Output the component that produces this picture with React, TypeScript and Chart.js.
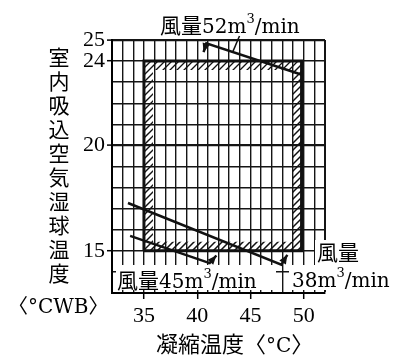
import React, { useEffect, useRef } from "react";
import { Chart, registerables } from "chart.js";

Chart.register(...registerables);

// ---- data ----
const X_MIN = 32;
const X_MAX = 52;
const Y_MIN = 13;
const Y_MAX = 25;
const X_TICK_LABELS = [35, 40, 45, 50];
const Y_TICK_LABELS = [15, 20, 24, 25];

// operating envelope (hatched rectangle)
const envelope = [
  { x: 35, y: 15 },
  { x: 35, y: 24 },
  { x: 49.8, y: 24 },
  { x: 49.8, y: 15 },
  { x: 35, y: 15 },
];
// air flow 52 m3/min limit line (arrow tip first)
const flow52 = [
  { x: 40.6, y: 24.42 },
  { x: 40.86, y: 24.84 },
  { x: 49.9, y: 23.34 },
];
const flow52Leader = [
  { x: 43.97, y: 25.19 },
  { x: 43.35, y: 24.45 },
];
// air flow 38 m3/min limit line (arrow tip last)
const flow38 = [
  { x: 33.5, y: 17.27 },
  { x: 47.9, y: 14.34 },
  { x: 48.46, y: 14.81 },
];
// air flow 45 m3/min limit line (arrow tip last)
const flow45 = [
  { x: 33.7, y: 15.71 },
  { x: 41.17, y: 14.42 },
  { x: 41.8, y: 14.78 },
];

const Y_TITLE = "室内吸込空気湿球温度";
const Y_UNIT = ["〈", "°CWB", "〉"];
const X_TITLE = ["凝縮温度", "〈", "°C", "〉"];
const LABEL_52 = ["風量", "52m", "3", "/min"];
const LABEL_45 = ["風量", "45m", "3", "/min"];
const LABEL_38A = "風量";
const LABEL_38B = ["38m", "3", "/min"];

const CJK = "'Noto Sans CJK JP', sans-serif";
const SERIF = "'DejaVu Serif', serif";

type Seg = { t: string; font: string; dy?: number };

function drawSegs(ctx: CanvasRenderingContext2D, x: number, y: number, segs: Seg[]) {
  ctx.textBaseline = "alphabetic";
  ctx.textAlign = "left";
  let cx = x;
  for (const s of segs) {
    ctx.font = s.font;
    ctx.fillText(s.t, cx, y + (s.dy || 0));
    cx += ctx.measureText(s.t).width;
  }
}

function flowSegs(parts: string[]): Seg[] {
  return [
    { t: parts[0], font: `21px ${CJK}` },
    { t: parts[1], font: `20px ${SERIF}` },
    { t: parts[2], font: `13px ${SERIF}`, dy: -10 },
    { t: parts[3], font: `20px ${SERIF}` },
  ];
}

const annotationPlugin = {
  id: "annotations",
  beforeDatasetsDraw(chart: any) {
    const ctx: CanvasRenderingContext2D = chart.ctx;
    const xs = chart.scales.x;
    const ys = chart.scales.y;
    ctx.save();
    // white label backgrounds covering grid
    ctx.fillStyle = "#fff";
    ctx.fillRect(116, 265, 160, 25);
    ctx.fillRect(289, 265, 107, 25);
    ctx.fillRect(315, 240, 60, 25);

    // hatched band inside the envelope
    const exs = envelope.map((p) => xs.getPixelForValue(p.x));
    const eys = envelope.map((p) => ys.getPixelForValue(p.y));
    const l = Math.min(...exs);
    const r = Math.max(...exs);
    const t = Math.min(...eys);
    const b = Math.max(...eys);
    const band = 9;
    ctx.save();
    ctx.beginPath();
    ctx.rect(l, t, r - l, b - t);
    ctx.rect(l + band, t + band, r - l - 2 * band, b - t - 2 * band);
    ctx.clip("evenodd");
    ctx.strokeStyle = "#111";
    ctx.lineWidth = 1.4;
    ctx.beginPath();
    for (let c = l + t; c <= r + b; c += 7) {
      ctx.moveTo(c - b, b);
      ctx.lineTo(c - t, t);
    }
    ctx.stroke();
    ctx.restore();

    // texts
    ctx.fillStyle = "#000";
    drawSegs(ctx, 160, 33, flowSegs(LABEL_52));
    drawSegs(ctx, 117, 288, flowSegs(LABEL_45));
    drawSegs(ctx, 317, 260, [{ t: LABEL_38A, font: `21px ${CJK}` }]);
    drawSegs(ctx, 292, 287, [
      { t: LABEL_38B[0], font: `20px ${SERIF}` },
      { t: LABEL_38B[1], font: `13px ${SERIF}`, dy: -10 },
      { t: LABEL_38B[2], font: `20px ${SERIF}` },
    ]);

    // y title (vertical stacked)
    ctx.font = `21px ${CJK}`;
    ctx.textAlign = "center";
    ctx.textBaseline = "middle";
    Array.from(Y_TITLE).forEach((ch, i) => {
      ctx.fillText(ch, 59, 57 + i * 24);
    });
    drawSegs(ctx, 8, 313, [
      { t: Y_UNIT[0], font: `20px ${CJK}` },
      { t: Y_UNIT[1], font: `20px ${SERIF}` },
      { t: Y_UNIT[2], font: `20px ${CJK}` },
    ]);
    // x title
    drawSegs(ctx, 156, 352, [
      { t: X_TITLE[0], font: `22px ${CJK}` },
      { t: X_TITLE[1], font: `22px ${CJK}` },
      { t: X_TITLE[2], font: `20px ${SERIF}` },
      { t: X_TITLE[3], font: `22px ${CJK}` },
    ]);
    ctx.restore();
  },
  afterDatasetsDraw(chart: any) {
    const ctx: CanvasRenderingContext2D = chart.ctx;
    chart.data.datasets.forEach((ds: any, i: number) => {
      if (!ds.arrowAt) return;
      const pts = chart.getDatasetMeta(i).data;
      const tip = ds.arrowAt === "start" ? pts[0] : pts[pts.length - 1];
      const prev = ds.arrowAt === "start" ? pts[1] : pts[pts.length - 2];
      const ang = Math.atan2(tip.y - prev.y, tip.x - prev.x);
      const len = 9;
      const w = 3.8;
      ctx.save();
      ctx.fillStyle = "#111";
      ctx.beginPath();
      ctx.moveTo(tip.x, tip.y);
      ctx.lineTo(
        tip.x - len * Math.cos(ang) + w * Math.sin(ang),
        tip.y - len * Math.sin(ang) - w * Math.cos(ang)
      );
      ctx.lineTo(
        tip.x - len * Math.cos(ang) - w * Math.sin(ang),
        tip.y - len * Math.sin(ang) + w * Math.cos(ang)
      );
      ctx.closePath();
      ctx.fill();
      ctx.restore();
    });
  },
};

const lineDs = (data: any[], extra: any = {}) => ({
  type: "scatter",
  data,
  showLine: true,
  borderColor: "#111",
  backgroundColor: "#111",
  borderWidth: 2.5,
  pointRadius: 0,
  fill: false,
  tension: 0,
  ...extra,
});

export default function App() {
  const ref = useRef<HTMLCanvasElement | null>(null);
  useEffect(() => {
    if (!ref.current) return;
    const chart = new Chart(ref.current, {
      type: "scatter",
      data: {
        datasets: [
          lineDs(envelope, { borderWidth: 3 }),
          lineDs(flow52, { arrowAt: "start" }),
          lineDs(flow52Leader, { borderWidth: 1.5, clip: false }),
          lineDs(flow38, { arrowAt: "end" }),
          lineDs(flow45, { arrowAt: "end" }),
        ] as any,
      },
      options: {
        animation: false,
        responsive: false,
        events: [],
        layout: { padding: { top: 40, right: 71, left: 0, bottom: 0 } },
        plugins: { legend: { display: false }, tooltip: { enabled: false } },
        scales: {
          x: {
            type: "linear",
            min: X_MIN,
            max: X_MAX,
            ticks: {
              stepSize: 1,
              autoSkip: false,
              maxRotation: 0,
              padding: 4,
              color: "#000",
              font: { family: "'Liberation Serif', serif", size: 22 },
              callback: (v: any) => (X_TICK_LABELS.includes(Number(v)) ? String(v) : ""),
            },
            grid: {
              color: "#151515",
              lineWidth: (c: any) => (c.tick && c.tick.value === X_MAX ? 2 : 1.4),
              tickLength: 6,
              tickWidth: 1.5,
              tickColor: (c: any) =>
                c.tick && X_TICK_LABELS.includes(c.tick.value) ? "#000" : "rgba(0,0,0,0)",
            },
            border: { color: "#000", width: 2 },
            afterFit: (s: any) => {
              s.height = 63;
            },
          },
          y: {
            type: "linear",
            min: Y_MIN,
            max: Y_MAX,
            ticks: {
              stepSize: 1,
              autoSkip: false,
              padding: 2,
              color: "#000",
              font: { family: "'Liberation Serif', serif", size: 22 },
              callback: (v: any) => (Y_TICK_LABELS.includes(Number(v)) ? String(v) : ""),
            },
            grid: {
              color: "#151515",
              lineWidth: (c: any) =>
                c.tick && (c.tick.value === Y_MAX || c.tick.value === 20) ? 2.2 : 1.4,
              tickLength: 5,
              tickWidth: 1.5,
              tickColor: (c: any) =>
                c.tick && Y_TICK_LABELS.includes(c.tick.value) ? "#000" : "rgba(0,0,0,0)",
            },
            border: { color: "#000", width: 2 },
            afterFit: (s: any) => {
              s.width = 112;
            },
          },
        },
      },
      plugins: [annotationPlugin],
    } as any);
    return () => chart.destroy();
  }, []);
  return (
    <div style={{ position: "fixed", left: 0, top: 0, width: 396, height: 356, background: "#fff" }}>
      <canvas ref={ref} width={396} height={356} style={{ width: 396, height: 356 }} />
    </div>
  );
}
